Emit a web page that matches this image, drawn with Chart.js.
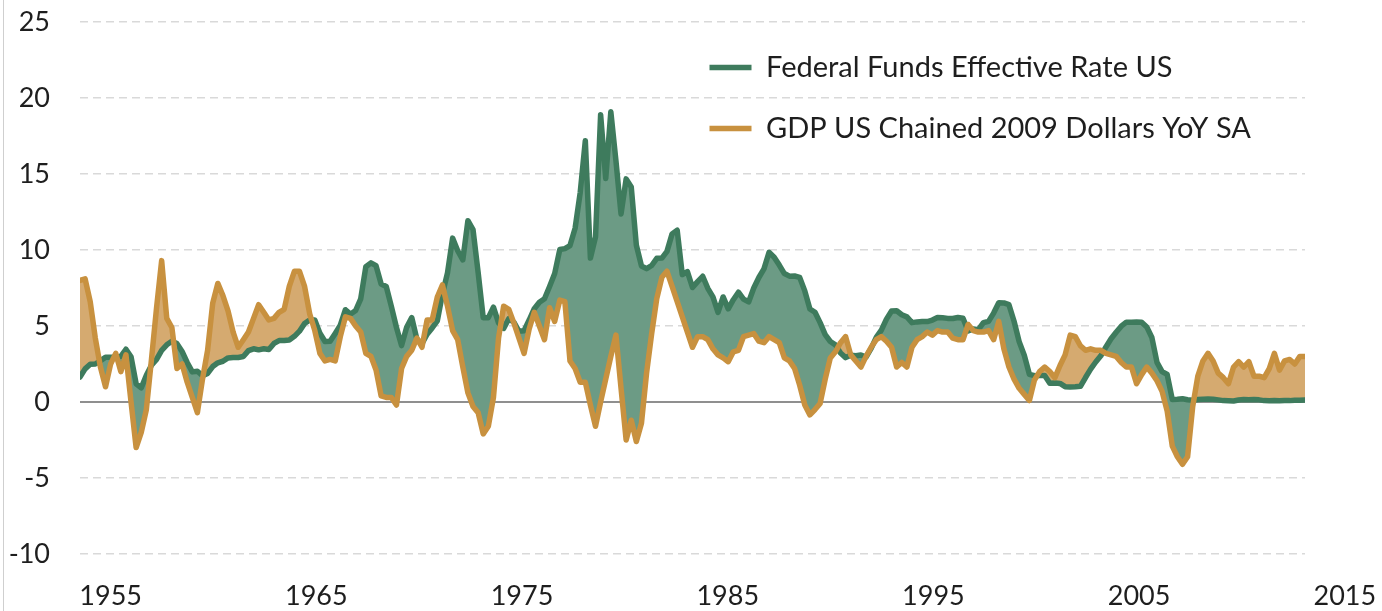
<!DOCTYPE html>
<html>
<head>
<meta charset="utf-8">
<title>Federal Funds Rate vs GDP growth</title>
<script src="https://cdn.jsdelivr.net/npm/chart.js@4.4.1/dist/chart.umd.min.js"></script>
<style>
    html, body { margin: 0; padding: 0; background: #fff; }
    #wrap { position: relative; width: 1382px; height: 611px; }
    #frame { position: absolute; left: 3px; top: 0; height: 611px; border-left: 1px solid #cfcfcf; }
    canvas { display: block; }
</style>
</head>
<body>
<div id="wrap">
    <div id="frame"></div>
    <canvas id="chart" width="1382" height="611"></canvas>
</div>
<script>
// one value per quarter, 1955 Q2 .. 2015 Q2
const fedFunds = [
    1.64, 2.18, 2.48,
    2.50, 2.71, 2.95, 2.94,
    2.96, 3.00, 3.47, 2.98,
    1.20, 0.93, 1.76, 2.42,
    2.80, 3.39, 3.76, 3.99,
    3.84, 3.32, 2.60, 1.98,
    2.02, 1.73, 1.88, 2.33,
    2.58, 2.68, 2.90, 2.93,
    2.93, 2.99, 3.38, 3.50,
    3.43, 3.50, 3.45, 3.85,
    4.04, 4.04, 4.08, 4.32,
    4.66, 5.17, 5.40, 5.40,
    4.53, 3.98, 3.99, 4.51,
    5.05, 6.07, 5.78, 6.02,
    6.79, 8.90, 9.15, 8.97,
    7.76, 7.60, 6.29, 4.90,
    3.71, 4.91, 5.55, 4.14,
    3.83, 4.46, 4.87, 5.33,
    7.09, 8.49, 10.78, 9.95,
    9.35, 11.93, 11.34, 8.53,
    5.54, 5.55, 6.24, 5.20,
    4.84, 5.48, 5.25, 4.65,
    4.69, 5.39, 6.14, 6.56,
    6.79, 7.60, 8.45, 10.03,
    10.09, 10.29, 11.43, 13.78,
    17.19, 9.47, 10.87, 18.90,
    14.70, 19.10, 15.87, 12.37,
    14.68, 14.15, 10.31, 8.95,
    8.77, 8.98, 9.45, 9.47,
    9.91, 11.06, 11.30, 8.38,
    8.58, 7.53, 7.92, 8.27,
    7.48, 6.92, 5.89, 6.91,
    6.13, 6.73, 7.22, 6.77,
    6.58, 7.50, 8.19, 8.76,
    9.85, 9.53, 9.01, 8.45,
    8.28, 8.29, 8.20, 7.31,
    6.12, 5.90, 5.22, 4.43,
    3.98, 3.76, 3.22, 2.92,
    3.07, 3.04, 3.09, 2.96,
    3.53, 4.25, 4.73, 5.45,
    5.98, 6.00, 5.74, 5.60,
    5.22, 5.27, 5.30, 5.29,
    5.39, 5.56, 5.54, 5.50,
    5.49, 5.56, 5.51, 4.68,
    4.81, 4.76, 5.22, 5.30,
    5.85, 6.53, 6.52, 6.40,
    5.31, 3.97, 3.07, 1.82,
    1.73, 1.75, 1.75, 1.24,
    1.25, 1.22, 1.01, 0.98,
    1.00, 1.03, 1.61, 2.16,
    2.63, 3.04, 3.62, 4.16,
    4.59, 4.99, 5.25, 5.24,
    5.26, 5.25, 4.94, 4.24,
    2.61, 2.00, 1.81, 0.16,
    0.18, 0.21, 0.15, 0.12,
    0.16, 0.18, 0.19, 0.18,
    0.14, 0.09, 0.08, 0.07,
    0.13, 0.16, 0.14, 0.16,
    0.14, 0.09, 0.08, 0.09,
    0.08, 0.10, 0.09, 0.12,
    0.11, 0.13
];

const gdpYoY = [
    8.0, 8.1, 6.6,
    4.2, 2.3, 1.0, 2.5,
    3.2, 2.0, 3.1, 0.0,
    -3.0, -2.0, -0.5, 2.8,
    6.2, 9.3, 5.5, 4.9,
    2.2, 2.5, 1.3, 0.3,
    -0.7, 1.5, 3.4, 6.5,
    7.8, 7.0, 6.0, 4.6,
    3.6, 4.1, 4.6, 5.5,
    6.4, 5.9, 5.4, 5.5,
    5.9, 6.1, 7.6, 8.6,
    8.6, 7.6, 5.8, 4.7,
    3.2, 2.7, 2.8, 2.7,
    4.3, 5.6, 5.5, 5.0,
    4.6, 3.2, 3.0, 2.1,
    0.4, 0.3, 0.3, -0.2,
    2.2, 3.0, 3.4, 4.2,
    3.6, 5.4, 5.4, 6.9,
    7.7, 6.3, 4.7, 4.1,
    2.3, 0.6, -0.3, -0.7,
    -2.1, -1.6, 0.3, 4.2,
    6.3, 6.1, 5.2, 4.2,
    3.2, 4.8, 5.9, 5.0,
    4.1, 6.2, 5.3, 6.7,
    6.6, 2.7, 2.2, 1.3,
    1.3, -0.2, -1.6, 0.0,
    1.5, 3.0, 4.4, 0.9,
    -2.5, -1.2, -2.6, -1.4,
    1.9, 4.5, 6.8, 8.2,
    8.6, 7.6, 6.6, 5.6,
    4.6, 3.6, 4.3, 4.3,
    4.1, 3.5, 3.1, 2.9,
    2.65, 3.3, 3.4, 4.3,
    4.4, 4.5, 4.0, 3.9,
    4.3, 4.1, 3.9, 2.9,
    2.7, 2.2, 1.1, -0.2,
    -0.85, -0.5, -0.1, 1.5,
    2.9, 3.3, 3.9, 4.3,
    3.1, 2.7, 2.3, 3.0,
    3.6, 4.1, 4.3, 4.0,
    3.6, 2.3, 2.6, 2.3,
    3.6, 4.1, 4.3, 4.6,
    4.4, 4.7, 4.6, 4.6,
    4.2, 4.1, 4.1, 5.1,
    4.7, 4.6, 4.6, 4.7,
    4.1, 5.3, 3.5, 2.3,
    1.5, 0.9, 0.5, 0.1,
    1.45, 2.0, 2.3, 2.0,
    1.6, 2.4, 3.1, 4.4,
    4.3, 3.7, 3.4, 3.5,
    3.4, 3.4, 3.2, 3.1,
    3.0, 2.6, 2.3, 2.3,
    1.2, 1.8, 2.3, 1.9,
    1.4, 0.7, -0.6, -2.9,
    -3.6, -4.1, -3.6, -0.3,
    1.7, 2.7, 3.2, 2.7,
    1.9, 1.6, 1.2, 2.3,
    2.65, 2.3, 2.65, 1.7,
    1.7, 1.6, 2.2, 3.2,
    2.1, 2.7, 2.8, 2.5,
    3.0, 3.0
];

const seriesNames = ['Federal Funds Effective Rate US', 'GDP US Chained 2009 Dollars YoY SA'];
const yTicks = [-10, -5, 0, 5, 10, 15, 20, 25];
const xTickLabels = ['1955', '1965', '1975', '1985', '1995', '2005', '2015'];

// the year labels sit roughly every 40 quarters, a little after the first quarter
const firstLabelAt = 6.0;
const quartersPerLabel = 40.3;

const GREEN = '#3e7b5d';
const GOLD = '#c8913f';
const GREEN_FILL = '#6c9b85';
const GOLD_FILL = '#d5aa70';

Chart.defaults.font.family = 'Lato, "Open Sans", sans-serif';
Chart.defaults.font.size = 27;
Chart.defaults.color = '#1e1e1e';

function toPoints(values) {
    return values.map((v, i) => ({ x: i, y: v }));
}

// legend sits inside the plot, upper right
const legendSpot = {
    id: 'legendSpot',
    afterLayout(chart) {
        const lg = chart.legend;
        if (!lg) return;
        const w = lg.width;
        const h = lg.height;
        lg.left = 677.5;
        lg.top = 21;
        lg.right = lg.left + w;
        lg.bottom = lg.top + h;
    }
};

const isZero = ctx => ctx.tick && ctx.tick.value === 0;

new Chart(document.getElementById('chart'), {
    type: 'line',
    data: {
        datasets: [{
            label: seriesNames[0],
            data: toPoints(fedFunds),
            borderColor: GREEN,
            backgroundColor: GREEN,
            borderWidth: 5.5,
            borderJoinStyle: 'round',
            borderCapStyle: 'round',
            pointRadius: 0,
            tension: 0,
            order: 1,
            fill: { target: '+1', above: GREEN_FILL, below: GOLD_FILL }
        }, {
            label: seriesNames[1],
            data: toPoints(gdpYoY),
            borderColor: GOLD,
            backgroundColor: GOLD,
            borderWidth: 5.5,
            borderJoinStyle: 'round',
            borderCapStyle: 'round',
            pointRadius: 0,
            tension: 0,
            order: 0,
            fill: false
        }]
    },
    options: {
        responsive: false,
        animation: false,
        events: [],
        layout: { padding: { top: 22, right: 77, bottom: 0, left: 0 } },
        scales: {
            x: {
                type: 'linear',
                min: 0,
                max: fedFunds.length - 1,
                afterBuildTicks: axis => {
                    axis.ticks = xTickLabels.map((_, k) => ({ value: firstLabelAt + k * quartersPerLabel }));
                },
                afterFit: axis => {
                    axis.height = 33;
                    axis.paddingLeft = 0;
                    axis.paddingRight = 0;
                },
                ticks: {
                    autoSkip: false,
                    maxRotation: 0,
                    padding: 2,
                    callback: (value, index) => xTickLabels[index]
                },
                grid: { display: false, drawTicks: false },
                border: { display: false }
            },
            y: {
                min: -11.58,
                max: 25,
                afterBuildTicks: axis => {
                    axis.ticks = yTicks.map(v => ({ value: v }));
                },
                afterFit: axis => {
                    axis.width = 80;
                    axis.paddingTop = 0;
                    axis.paddingBottom = 0;
                },
                ticks: { padding: 30 },
                grid: {
                    drawTicks: false,
                    color: ctx => isZero(ctx) ? '#8f8f8f' : '#d9d9d9',
                    lineWidth: ctx => isZero(ctx) ? 2 : 1.5
                },
                border: {
                    display: false,
                    dash: ctx => isZero(ctx) ? [] : [8, 5]
                }
            }
        },
        plugins: {
            tooltip: { enabled: false },
            legend: {
                position: 'chartArea',
                align: 'start',
                labels: {
                    usePointStyle: true,
                    pointStyle: 'line',
                    pointStyleWidth: 42,
                    padding: 32,
                    font: { size: 29 },
                    sort: (a, b) => a.datasetIndex - b.datasetIndex
                }
            }
        }
    },
    plugins: [legendSpot]
});
</script>
</body>
</html>
